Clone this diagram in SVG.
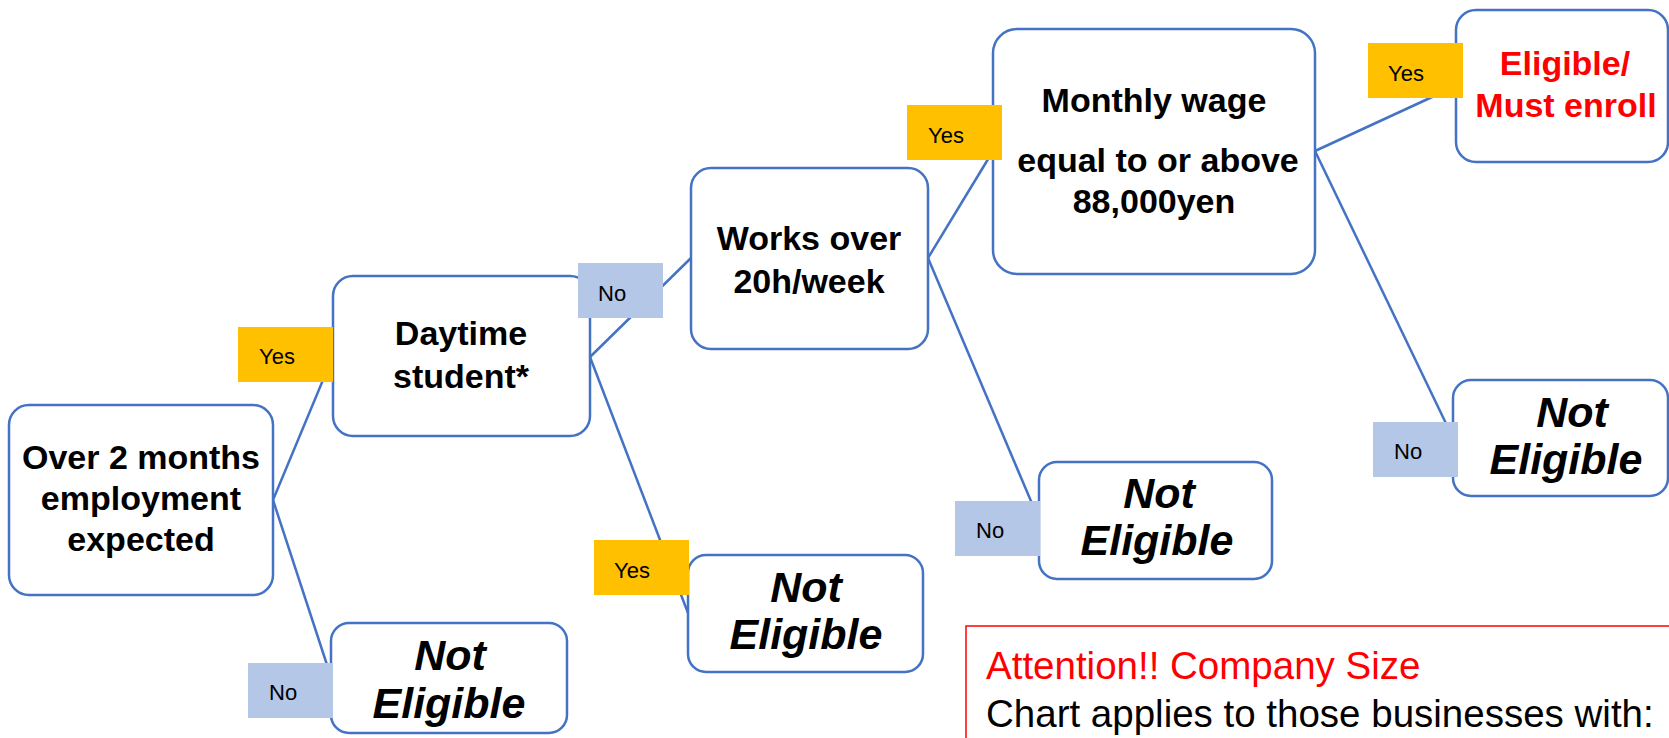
<svg xmlns="http://www.w3.org/2000/svg" width="1669" height="738" viewBox="0 0 1669 738">
<style>
.box{fill:#fff;stroke:#4472C4;stroke-width:2.5}
.q{font-family:"Liberation Sans",Arial,sans-serif;font-weight:bold;font-size:34px;fill:#000;text-anchor:middle}
.ne{font-family:"Liberation Sans",Arial,sans-serif;font-weight:bold;font-style:italic;font-size:43px;fill:#000;text-anchor:middle}
.red{fill:#FF0000}
.yes{fill:#FFC000}
.no{fill:#B4C7E7}
.lt{font-family:"Liberation Sans",Arial,sans-serif;font-size:22px;fill:#000}
.conn line{stroke:#4472C4;stroke-width:2.5}
.att{font-family:"Liberation Sans",Arial,sans-serif;font-size:38.5px}
</style>
<rect width="1669" height="738" fill="#fff"/>
<g id="connectors" class="conn">
<line x1="273" y1="500" x2="333" y2="356"/>
<line x1="273" y1="500" x2="331" y2="677"/>
<line x1="590" y1="357" x2="691" y2="258"/>
<line x1="590" y1="357" x2="688" y2="613"/>
<line x1="928" y1="258" x2="993" y2="151"/>
<line x1="928" y1="258" x2="1039" y2="520"/>
<line x1="1315" y1="151" x2="1456" y2="86"/>
<line x1="1315" y1="151" x2="1453" y2="438"/>
</g>
<g id="n-employment">
<rect class="box" x="9" y="405" width="264" height="190" rx="20"/>
<text class="q" x="141" y="469">Over 2 months</text>
<text class="q" x="141" y="510">employment</text>
<text class="q" x="141" y="551">expected</text>
</g>
<g id="n-student">
<rect class="box" x="333" y="276" width="257" height="160" rx="20"/>
<text class="q" x="461" y="345">Daytime</text>
<text class="q" x="461" y="388">student*</text>
</g>
<g id="n-hours">
<rect class="box" x="691" y="168" width="237" height="181" rx="20"/>
<text class="q" x="809" y="250">Works over</text>
<text class="q" x="809" y="293">20h/week</text>
</g>
<g id="n-wage">
<rect class="box" x="993" y="29" width="322" height="245" rx="24"/>
<text class="q" x="1154" y="112">Monthly wage</text>
<text class="q" x="1158" y="172">equal to or above</text>
<text class="q" x="1154" y="213">88,000yen</text>
</g>
<g id="n-eligible">
<rect class="box" x="1456" y="10" width="212" height="152" rx="20"/>
<text class="q red" x="1565" y="75">Eligible/</text>
<text class="q red" x="1566" y="117">Must enroll</text>
</g>
<g id="n-ne1">
<rect class="box" x="331" y="623" width="236" height="110" rx="18"/>
<text class="ne" x="450" y="670">Not</text>
<text class="ne" x="449" y="718">Eligible</text>
</g>
<g id="n-ne2">
<rect class="box" x="688" y="555" width="235" height="117" rx="18"/>
<text class="ne" x="806" y="602">Not</text>
<text class="ne" x="806" y="649">Eligible</text>
</g>
<g id="n-ne3">
<rect class="box" x="1039" y="462" width="233" height="117" rx="18"/>
<text class="ne" x="1159" y="508">Not</text>
<text class="ne" x="1157" y="555">Eligible</text>
</g>
<g id="n-ne4">
<rect class="box" x="1453" y="380" width="215" height="116" rx="18"/>
<text class="ne" x="1572" y="427">Not</text>
<text class="ne" x="1566" y="474">Eligible</text>
</g>
<g id="labels">
<rect class="yes" x="238" y="327" width="95" height="55"/>
<text class="lt" x="259" y="364">Yes</text>
<rect class="no" x="248" y="663" width="85" height="55"/>
<text class="lt" x="269" y="700">No</text>
<rect class="no" x="578" y="263" width="85" height="55"/>
<text class="lt" x="598" y="301">No</text>
<rect class="yes" x="594" y="540" width="95" height="55"/>
<text class="lt" x="614" y="578">Yes</text>
<rect class="yes" x="907" y="105" width="95" height="55"/>
<text class="lt" x="928" y="143">Yes</text>
<rect class="no" x="955" y="501" width="85" height="55"/>
<text class="lt" x="976" y="538">No</text>
<rect class="yes" x="1368" y="43" width="95" height="55"/>
<text class="lt" x="1388" y="81">Yes</text>
<rect class="no" x="1373" y="422" width="85" height="55"/>
<text class="lt" x="1394" y="459">No</text>
</g>
<g id="attention">
<rect x="966" y="626" width="720" height="150" fill="#fff" stroke="#FF0000" stroke-width="1.5"/>
<text class="att" x="986" y="679" fill="#FF0000" font-size="40px">Attention!! Company Size</text>
<text class="att" x="986" y="727" fill="#000">Chart applies to those businesses with:</text>
</g>
</svg>
